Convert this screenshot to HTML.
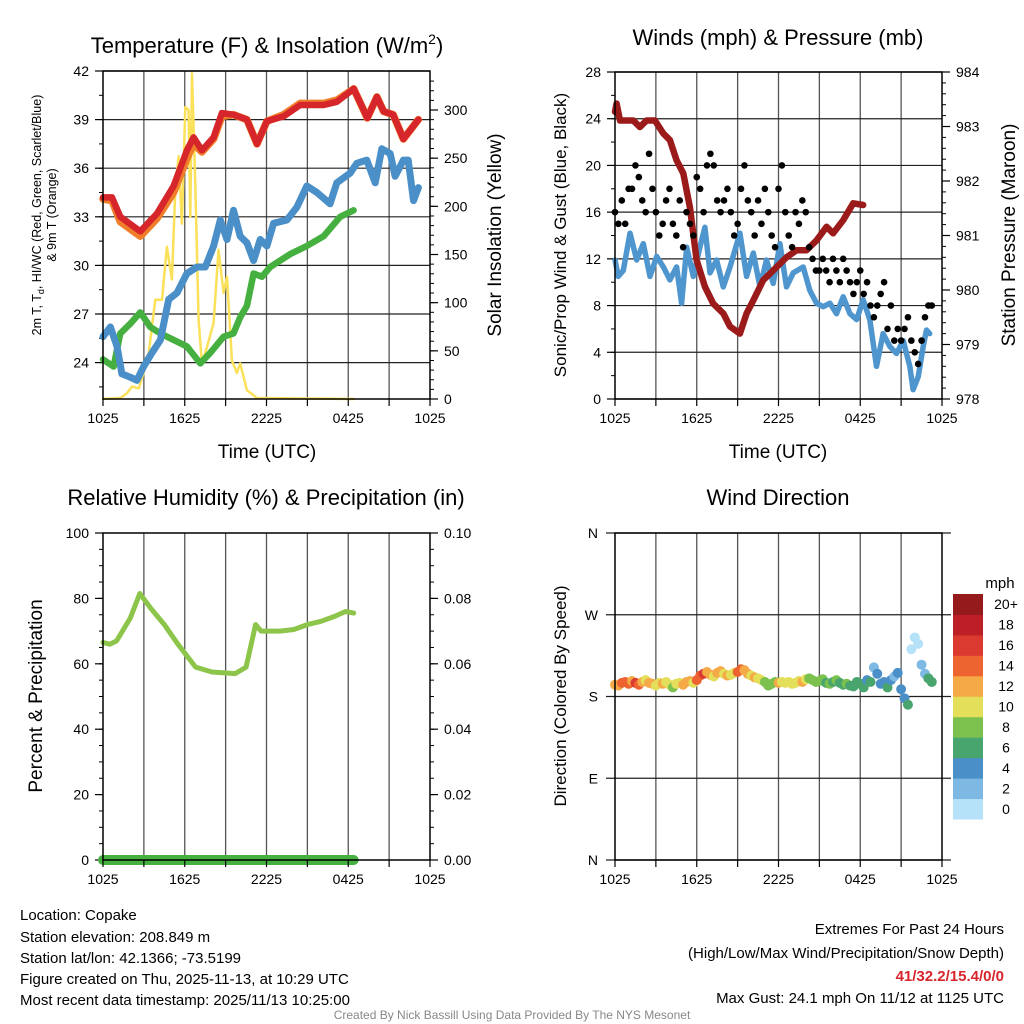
<!DOCTYPE html>
<html><head><meta charset="utf-8"><style>
html,body{margin:0;padding:0;background:#fff;}
svg{display:block;font-family:"Liberation Sans",sans-serif;}
</style></head><body>
<svg id="chart" width="1024" height="1024" viewBox="0 0 1024 1024" xmlns="http://www.w3.org/2000/svg">
<rect width="1024" height="1024" fill="#fff"/>
<g id="layer"></g>
<!-- titles -->
<text x="267" y="53" font-size="22" text-anchor="middle">Temperature (F) &amp; Insolation (W/m<tspan font-size="14" dy="-9">2</tspan><tspan dy="9">)</tspan></text>
<text x="778" y="45" font-size="22" text-anchor="middle">Winds (mph) &amp; Pressure (mb)</text>
<text x="266" y="505" font-size="22" text-anchor="middle">Relative Humidity (%) &amp; Precipitation (in)</text>
<text x="778" y="505" font-size="22" text-anchor="middle">Wind Direction</text>
<text x="267" y="458" font-size="19" text-anchor="middle">Time (UTC)</text>
<text x="778" y="458" font-size="19" text-anchor="middle">Time (UTC)</text>
<text transform="translate(41,215) rotate(-90)" font-size="12.5" text-anchor="middle">2m T, T<tspan font-size="9" dy="3">d</tspan><tspan dy="-3">, HI/WC (Red, Green, Scarlet/Blue)</tspan></text>
<text transform="translate(56,215) rotate(-90)" font-size="12.5" text-anchor="middle">&amp; 9m T (Orange)</text>
<text transform="translate(501,235) rotate(-90)" font-size="19" text-anchor="middle">Solar Insolation (Yellow)</text>
<text transform="translate(566,235) rotate(-90)" font-size="17" text-anchor="middle">Sonic/Prop Wind &amp; Gust (Blue, Black)</text>
<text transform="translate(1015,235) rotate(-90)" font-size="19" text-anchor="middle">Station Pressure (Maroon)</text>
<text transform="translate(42,696) rotate(-90)" font-size="19" text-anchor="middle">Percent &amp; Precipitation</text>
<text transform="translate(566,696) rotate(-90)" font-size="17" text-anchor="middle">Direction (Colored By Speed)</text>
<text x="1000" y="588" font-size="15" text-anchor="middle">mph</text>
<!-- footer -->
<g font-size="15">
<text x="20" y="920">Location: Copake</text>
<text x="20" y="942">Station elevation: 208.849 m</text>
<text x="20" y="963">Station lat/lon: 42.1366; -73.5199</text>
<text x="20" y="984">Figure created on Thu, 2025-11-13, at 10:29 UTC</text>
<text x="20" y="1005">Most recent data timestamp: 2025/11/13 10:25:00</text>
</g>
<g font-size="15" text-anchor="end">
<text x="1004" y="934">Extremes For Past 24 Hours</text>
<text x="1004" y="958">(High/Low/Max Wind/Precipitation/Snow Depth)</text>
<text x="1004" y="981" fill="#d7262b" font-weight="bold">41/32.2/15.4/0/0</text>
<text x="1004" y="1003">Max Gust: 24.1 mph On 11/12 at 1125 UTC</text>
</g>
<text x="512" y="1019" font-size="12" fill="#888" text-anchor="middle">Created By Nick Bassill Using Data Provided By The NYS Mesonet</text>
</svg>
<script>
// ---- data ----
const timeTickLabels = ["1025","1625","2225","0425","1025"];
const redT = [0,0.66,1.27,2.74,3.96,5.18,6.16,6.65,7.26,8.12,8.73,9.58,10.56,11.3,12.03,13.25,14.47,16.2,17.16,18.4,19.4,20.1,20.6,21.3,22.05,23.15];
const redTemp = [34.2,34.2,33.0,32.1,33.2,34.9,37.1,37.9,37.1,37.9,39.4,39.3,39.0,37.5,38.9,39.2,39.9,39.9,40.1,40.9,39.1,40.4,39.5,39.3,37.8,39.0];
const orangeTemp = [34.1,34.0,32.7,31.8,32.9,34.5,36.6,37.5,37.0,37.8,39.2,39.3,39.0,37.5,38.9,39.3,40.0,40.0,40.2,40.9,39.1,40.4,39.5,39.3,37.8,39.0];
const blueT = [0,0.54,1.03,1.39,2.0,2.49,2.98,3.59,4.21,4.82,5.43,6.16,6.9,7.51,8.12,8.61,9.1,9.58,10.07,10.56,11.05,11.54,12.03,12.52,13.5,14.23,14.96,15.7,16.67,17.16,18.14,18.63,19.36,19.98,20.46,21.08,21.44,22.05,22.4,22.79,23.15];
const blueTemp = [25.6,26.2,25.0,23.3,23.1,22.9,23.75,24.6,25.4,27.9,28.3,29.5,29.9,29.9,31.2,32.8,31.6,33.4,31.8,31.4,30.3,31.6,31.2,32.6,32.8,33.6,34.9,34.5,33.8,35.1,35.7,36.3,36.5,35.1,37.2,36.9,35.5,36.5,36.5,34.0,34.8];
const greenT = [0,0.78,1.27,2.0,2.74,3.47,4.21,5.18,6.16,7.14,7.87,8.85,9.58,10.07,10.56,11.05,11.66,12.27,13.74,14.96,16.19,17.41,18.39];
const greenTemp = [24.2,23.75,25.8,26.4,27.1,26.2,25.8,25.4,25.0,23.95,24.6,25.6,25.8,26.8,27.5,29.5,29.3,29.9,30.7,31.2,31.8,33.0,33.4];
const solarT = [0,1.27,1.76,2.13,2.62,2.98,3.35,3.84,4.33,4.69,5.06,5.31,5.55,5.79,6.04,6.28,6.41,6.53,6.77,7.02,7.26,7.63,8.12,8.48,8.85,9.1,9.46,9.83,10.07,10.56,11.3,18.39];
const solarVal = [0,1,6,13,11,27,47,103,103,158,124,217,252,182,303,300,189,338,227,82,37,54,79,155,110,127,40,27,37,9,1,0];
const tempTicks = [24,27,30,33,36,39,42];
const solarTicks = [0,50,100,150,200,250,300];

const presT = [0,0.12,0.37,0.86,1.34,1.83,2.32,2.93,3.55,4.03,4.52,5.01,5.5,5.99,6.6,7.21,7.95,8.44,9.17,9.66,10.15,10.88,11.37,11.86,12.59,13.33,14.06,14.79,15.53,16.01,16.75,17.48,18.22];
const presVal = [983.27,983.42,983.11,983.11,983.11,982.99,983.11,983.11,982.87,982.75,982.38,982.14,981.52,980.55,980.06,979.75,979.57,979.33,979.2,979.57,979.81,980.18,980.3,980.42,980.6,980.73,980.73,980.91,981.16,981.04,981.28,981.59,981.56];
const windT = [0,0.24,0.61,1.1,1.59,2.08,2.57,3.06,3.55,4.03,4.52,4.89,5.26,5.75,6.23,6.6,6.97,7.46,7.95,8.44,9.17,9.66,10.15,10.64,11.12,11.61,12.1,12.59,13.08,13.81,14.3,14.79,15.28,15.77,16.26,16.75,17.24,17.73,18.22,18.7,19.19,19.68,20.17,20.66,21.15,21.64,21.88,22.25,22.62,22.86,23.1];
const windVal = [11.9,10.5,11.0,14.2,11.9,13.3,10.5,12.2,11.3,10.2,11.3,8.2,13.0,10.5,13.0,14.7,10.8,11.9,9.6,11.3,14.2,10.5,12.5,9.6,11.9,9.9,13.3,9.6,10.8,11.3,9.3,8.2,7.9,8.2,7.3,8.75,7.3,6.8,8.5,6.8,2.8,5.6,4.5,3.9,5.0,2.8,0.8,1.9,4.5,5.9,5.6];
const gustVal = [16,15,17,15,18,18,20,19,17,16,21,18,16,14,15,17,18,15,14,17,13,16,15,14,19,18,16,20,21,20,17,16,17,18,16,14,15,18,20,17,16,14,17,15,18,16,14,13,18,20,16,14,13,16,15,17,16,13,12,11,11,12,11,10,12,11,10,12,11,10,9,10,11,9,10,8,7,8,9,10,6,8,5,6,5,6,7,5,4,3,5,7,8,8];
const windTicks = [0,4,8,12,16,20,24,28];
const presTicks = [978,979,980,981,982,983,984];

const rhT = [0,0.5,1,2,2.7,3.5,4.5,5.5,6.8,8,9.7,10.5,11.2,11.6,12,13,14,15,16,17,17.8,18.4];
const rhVal = [66.5,66,67,74,81.5,77,72,66,59,57.5,57,59,72,70,70,70,70.5,72,73,74.5,76,75.5];
const precipT = [0,18.4];
const precipVal = [0,0];
const rhTicks = [0,20,40,60,80,100];
const precipTicks = ["0.00","0.02","0.04","0.06","0.08","0.10"];

const dirVal = [193,192,195,196,194,197,195,193,196,198,195,194,192,195,194,196,193,190,194,195,193,196,197,195,198,203,205,207,204,202,206,208,205,203,204,206,207,210,209,205,203,201,200,198,196,192,194,196,195,196,195,196,194,195,197,196,199,200,198,196,197,199,195,194,196,198,195,193,194,192,191,196,194,190,198,196,212,205,194,196,190,198,202,206,188,178,171,232,245,238,215,205,200,196];
const dirSpeed = [12,13,14,15,14,13,16,15,12,11,12,13,11,10,12,11,10,9,10,11,12,13,12,11,14,15,16,13,12,11,13,12,11,12,10,11,15,14,13,12,11,12,11,10,9,8,9,8,12,11,10,11,10,10,11,12,10,9,8,8,9,8,7,8,7,8,7,6,8,7,7,6,6,7,5,6,2,4,5,4,6,5,3,4,4,4,6,1,1,0,2,3,6,6];
const dirTicks = ["N","E","S","W","N"];
const speedBinLabels = ["0","2","4","6","8","10","12","14","16","18","20+"];
const speedBinColors = ["#b5e2f8","#7db9e2","#4a8fc7","#49a56e","#7cc14e","#e4df5a","#f5a947","#ee6430","#da3a2f","#be1e25","#941a1c"];

// ---- drawing ----
const NS = "http://www.w3.org/2000/svg";
const layer = document.getElementById("layer");
function mk(tag, attrs, parent) {
  const e = document.createElementNS(NS, tag);
  for (const k in attrs) e.setAttribute(k, attrs[k]);
  (parent || layer).appendChild(e);
  return e;
}
function linear(d0, d1, r0, r1) { return v => r0 + (v - d0) / (d1 - d0) * (r1 - r0); }
function pathD(ts, vs, xf, yf) {
  return ts.map((t, i) => (i ? "L" : "M") + xf(t).toFixed(1) + "," + yf(vs[i]).toFixed(1)).join("");
}

function frame(P, name) {
  const g = mk("g", {});
  
  
  for (let h = 3; h < 24; h += 3) {
    const x = P.x(h);
    const l = mk("line", {x1: x, x2: x, y1: P.y0, y2: P.y1, stroke: "#555", "stroke-width": 1.3}, g);
    
    
  }
  return g;
}
function border(P, name) {
  const r = mk("rect", {x: P.x0, y: P.y0, width: P.x1 - P.x0, height: P.y1 - P.y0, fill: "none", stroke: "#000", "stroke-width": 1.5});
  
  
  for (let h = 0; h <= 24; h += 3) {
    const x = P.x(h);
    const t = mk("line", {x1: x, x2: x, y1: P.y1, y2: P.y1 + 7, stroke: "#000", "stroke-width": 1.2});
    
    
  }
  timeTickLabels.forEach((s, i) => {
    const t = mk("text", {x: P.x(i * 6), y: P.y1 + 24, "font-size": 14, "text-anchor": "middle"});
    t.textContent = s;
    
    
  });
}
function yAxis(P, ticks, labels, yf, side, minorStep, lo, hi, name, grid) {
  const xa = side === "left" ? P.x0 : P.x1;
  const dir = side === "left" ? -1 : 1;
  ticks.forEach((v, i) => {
    const y = yf(v);
    if (grid) {
      const gl = mk("line", {x1: P.x0, x2: P.x1, y1: y, y2: y, stroke: "#222", "stroke-width": 1.2});
      
      
    }
    const t = mk("line", {x1: xa, x2: xa + dir * 8, y1: y, y2: y, stroke: "#000", "stroke-width": 1.2});
    
    
    const tx = mk("text", {x: xa + dir * 14, y: y + 5, "font-size": 14, "text-anchor": side === "left" ? "end" : "start"});
    tx.textContent = labels[i];
    
    
  });
  if (minorStep) {
    for (let v = lo; v <= hi + 1e-9; v += minorStep) {
      const y = yf(v);
      const m = mk("line", {x1: xa, x2: xa + dir * 4, y1: y, y2: y, stroke: "#000", "stroke-width": 1});
      
      
    }
  }
}
function line(ts, vs, P, yf, color, w, name) {
  const p = mk("path", {d: pathD(ts, vs, P.x, yf), fill: "none", stroke: color, "stroke-width": w, "stroke-linejoin": "round", "stroke-linecap": "round"});
  
  
  return p;
}
function panel(x0, x1, y0, y1) {
  return {x0, x1, y0, y1, x: linear(0, 24, x0, x1)};
}

// Panel 1: temperature
const P1 = panel(103, 430, 71, 399);
const yT = linear(42, 42 - (399 - 71) / 16.2, 71, 399);
const yS = linear(0, 300, 399, 110);
frame(P1, "temperature");
yAxis(P1, tempTicks, tempTicks.map(String), yT, "left", 1.5, 22.5, 42, "temperature", true);
yAxis(P1, solarTicks, solarTicks.map(String), yS, "right", 10, 0, 330, "solar", false);
line(solarT, solarVal, P1, yS, "#fbe15a", 2.5, "solar-insolation-line");
line(greenT, greenTemp, P1, yT, "#45b03f", 6.5, "dewpoint-line");
line(blueT, blueTemp, P1, yT, "#4a8fc7", 7, "wind-chill-line");
line(redT, orangeTemp, P1, yT, "#f07d2a", 7.5, "temperature-9m-line");
line(redT, redTemp, P1, yT, "#d7262b", 6.5, "temperature-2m-line");
border(P1, "temperature");

// Panel 2: winds
const P2 = panel(615, 942, 72, 399);
const yW = linear(0, 28, 399, 72);
const yP = linear(978, 984, 399, 72);
frame(P2, "winds");
yAxis(P2, windTicks, windTicks.map(String), yW, "left", 2, 0, 28, "wind", true);
yAxis(P2, presTicks, presTicks.map(String), yP, "right", 0.2, 978, 984, "pressure", false);
line(windT, windVal, P2, yW, "#4f96cf", 5.5, "sustained-wind-line");
line(presT, presVal, P2, yP, "#9b1b1b", 6.5, "pressure-line");
gustVal.forEach((v, i) => {
  const c = mk("circle", {cx: P2.x(i * 0.25), cy: yW(v), r: 3.3, fill: "#000"});
  
  
});
border(P2, "winds");

// Panel 3: humidity
const P3 = panel(103, 430, 533, 860);
const yR = linear(0, 100, 860, 533);
frame(P3, "humidity");
yAxis(P3, rhTicks, rhTicks.map(String), yR, "left", 5, 0, 100, "humidity", false);
yAxis(P3, rhTicks, precipTicks, yR, "right", 5, 0, 100, "precipitation", false);
line(rhT, rhVal, P3, yR, "#8dc54b", 5, "relative-humidity-line");
line(precipT, precipVal.map(v => v * 1000), P3, yR, "#45b03f", 10, "precipitation-line");
border(P3, "humidity");

// Panel 4: wind direction
const P4 = panel(615, 942, 533, 860);
const yD = linear(0, 360, 860, 533);
frame(P4, "direction");
dirTicks.forEach((s, i) => {
  const y = yD(i * 90);
  const gl = mk("line", {x1: 606, x2: 951, y1: y, y2: y, stroke: "#222", "stroke-width": 1.2});
  
  
  const tx = mk("text", {x: 598, y: y + 5, "font-size": 14, "text-anchor": "end"});
  tx.textContent = s;
  
  
});
function speedColor(s) { return speedBinColors[Math.min(10, Math.max(0, Math.floor(s / 2)))]; }
dirVal.forEach((d, i) => {
  const c = mk("circle", {cx: P4.x(i * 0.25), cy: yD(d), r: 5, fill: speedColor(dirSpeed[i])});
  
  
});
border(P4, "direction");
// colorbar
const cbTop = 594, cbBot = 819, cbH = (cbBot - cbTop) / speedBinColors.length;
speedBinColors.forEach((col, i) => {
  const y = cbBot - (i + 1) * cbH;
  const r = mk("rect", {x: 953, y: y, width: 30, height: cbH + 0.5, fill: col});
  
  
  const t = mk("text", {x: 1006, y: y + cbH / 2 + 5, "font-size": 14, "text-anchor": "middle"});
  t.textContent = speedBinLabels[i];
  
  
});
</script>
</body></html>
